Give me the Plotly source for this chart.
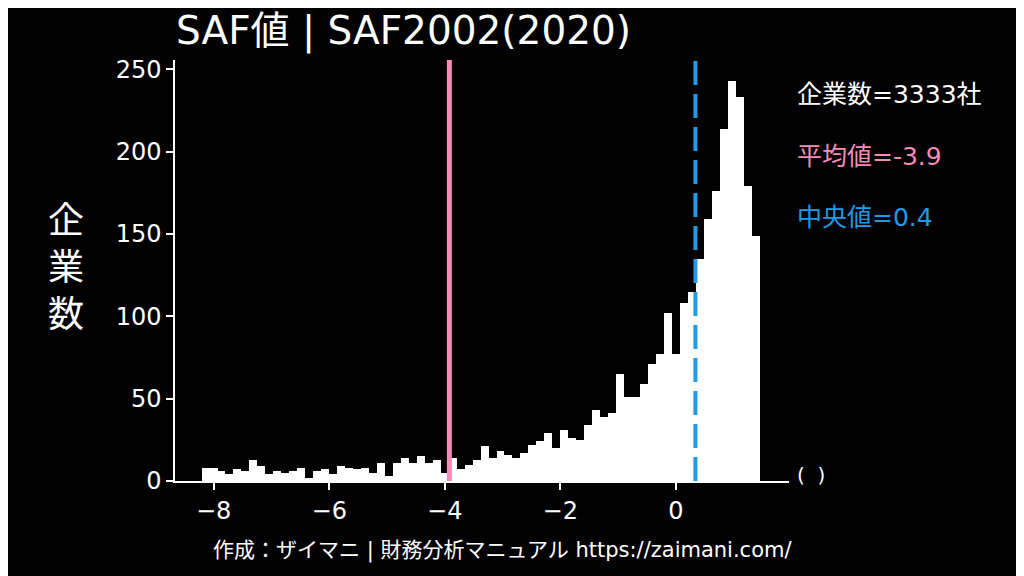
import numpy as np
import plotly.graph_objects as go

# histogram of SAF values (clipped range), bins
bin_start = -8.21
bin_width = 0.138
counts = [8, 8, 6, 4, 7, 6, 13, 9, 4, 6,
          5, 6, 8, 2, 6, 7, 4, 9, 8, 7,
          8, 5, 11, 3, 11, 14, 11, 15, 11, 13,
          5, 14, 7, 10, 13, 21, 14, 18, 16, 14,
          17, 22, 24, 29, 20, 31, 26, 25, 34, 43,
          39, 41, 65, 51, 51, 59, 71, 77, 102, 77,
          108, 115, 135, 159, 176, 214, 243, 233, 179, 149]

n_companies = 3333
mean_value = -3.92
median_value = 0.34
mean_label = "-3.9"
median_label = "0.4"

x_ticks = [-8, -6, -4, -2, 0]
y_ticks = [0, 50, 100, 150, 200, 250]

PINK = "#F48CB6"
BLUE = "#1E9BE9"
FONT = "DejaVu Sans, Noto Sans CJK JP"

centers = bin_start + bin_width * (np.arange(len(counts)) + 0.5)

fig = go.Figure()
fig.add_trace(go.Bar(
    x=centers,
    y=counts,
    width=bin_width,
    marker=dict(color="white", line=dict(width=0)),
    showlegend=False,
    hoverinfo="x+y"
))

# mean / median lines
fig.add_vline(x=mean_value, line=dict(color=PINK, width=5))
fig.add_vline(x=median_value, line=dict(color=BLUE, width=4, dash="24px,9px"))

# the page has an 8px body margin, so everything is pulled up/left by 8px
fig.update_layout(
    width=1024,
    height=576,
    paper_bgcolor="black",
    plot_bgcolor="black",
    margin=dict(l=167, r=243, t=52, b=103),
    bargap=0,
    font=dict(family=FONT, color="white", size=24),
    title=dict(
        text="SAF値 | SAF2002(2020)",
        x=168 / 1024, xanchor="left",
        y=1 - 22 / 576, yanchor="middle",
        font=dict(size=39, color="white", family=FONT)
    )
)

fig.update_xaxes(
    range=[-8.67, 1.96],
    tickvals=x_ticks,
    showline=True, linecolor="white", linewidth=1.5,
    ticks="outside", ticklen=7, tickwidth=1.5, tickcolor="white",
    showgrid=False, zeroline=False,
    tickfont=dict(size=24)
)
fig.update_yaxes(
    range=[0, 255.6],
    tickvals=y_ticks,
    showline=True, linecolor="white", linewidth=1.5,
    ticks="outside", ticklen=7, tickwidth=1.5, tickcolor="white",
    showgrid=False, zeroline=False,
    tickfont=dict(size=24)
)

notes = [
    (f"企業数={n_companies}社", "white", 0.917),
    (f"平均値={mean_label}", PINK, 0.770),
    (f"中央値={median_label}", BLUE, 0.625),
]
for txt, col, yy in notes:
    fig.add_annotation(
        text=txt, xref="paper", yref="paper", x=1.010, y=yy,
        xanchor="left", yanchor="middle", showarrow=False,
        font=dict(size=25, color=col, family=FONT)
    )

# axis labels
fig.add_annotation(
    text="企<br>業<br>数", xref="paper", yref="paper", x=-0.1775, y=0.506,
    xanchor="center", yanchor="middle", showarrow=False,
    font=dict(size=36, color="white", family=FONT)
)
fig.add_annotation(
    text="(  )", xref="paper", yref="paper", x=1.010, y=0.014,
    xanchor="left", yanchor="middle", showarrow=False,
    font=dict(size=20, color="white", family=FONT)
)
fig.add_annotation(
    text="作成：ザイマニ | 財務分析マニュアル https://zaimani.com/",
    xref="paper", yref="paper", x=0.534, y=-0.164,
    xanchor="center", yanchor="middle", showarrow=False,
    font=dict(size=21, color="white", family=FONT)
)

fig.write_html("out.html")
